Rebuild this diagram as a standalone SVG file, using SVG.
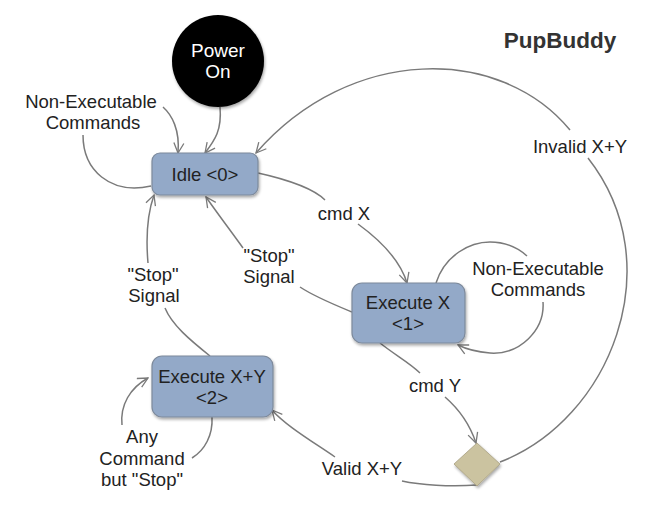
<svg xmlns="http://www.w3.org/2000/svg" width="671" height="517" viewBox="0 0 671 517">
<style>
text{font-family:"Liberation Sans",Arial,sans-serif;font-size:18.5px;fill:#222;text-anchor:middle}
.conn path{fill:none;stroke:#7a7a7a;stroke-width:1.5}
.box{fill:#93a9c8;stroke:#7d8a9c;stroke-width:1.2;filter:url(#sh)}
</style>
<defs>
<marker id="ah" viewBox="0 0 12 12" refX="11" refY="6" markerWidth="12" markerHeight="12" markerUnits="userSpaceOnUse" orient="auto">
<path d="M1,1 L11,6 L1,11" fill="none" stroke="#7a7a7a" stroke-width="1.3"/>
</marker>
<filter id="sh" x="-20%" y="-20%" width="140%" height="150%">
<feGaussianBlur in="SourceAlpha" stdDeviation="1.5"/>
<feOffset dx="1" dy="2" result="b"/>
<feComponentTransfer><feFuncA type="linear" slope="0.35"/></feComponentTransfer>
<feMerge><feMergeNode/><feMergeNode in="SourceGraphic"/></feMerge>
</filter>
</defs>
<g id="title"><text x="560" y="48" style="font-weight:bold;font-size:22.5px;fill:#333">PupBuddy</text></g>
<g id="connectors" class="conn">
<path d="M220,107 C222,130 215,140 205,153" marker-end="url(#ah)"/>
<path d="M83,135 C83,170 110,195 151,186"/>
<path d="M163,107 C172,115 180,130 178,153" marker-end="url(#ah)"/>
<path d="M258,173 C290,180 315,190 325,200"/>
<path d="M358,224 C380,240 400,260 407,283" marker-end="url(#ah)"/>
<path d="M352,312 C335,305 315,297 300,287"/>
<path d="M243,248 C230,230 215,210 206,197" marker-end="url(#ah)"/>
<path d="M210,356 C190,340 172,325 165,308"/>
<path d="M148,263 C146,240 147,215 154,195" marker-end="url(#ah)"/>
<path d="M212,417 C213,435 205,450 192,458"/>
<path d="M122,425 C120,405 130,388 148,378" marker-end="url(#ah)"/>
<path d="M436,283 C445,255 470,242 490,242 C505,242 518,248 527,256"/>
<path d="M543,302 C545,330 520,355 490,353 C478,352 466,349 458,345" marker-end="url(#ah)"/>
<path d="M380,343 C395,355 410,363 420,373"/>
<path d="M445,397 C460,410 470,425 476,443" marker-end="url(#ah)"/>
<path d="M477,485 C450,487 420,485 402,481"/>
<path d="M335,457 C310,440 285,425 272,410" marker-end="url(#ah)"/>
<path d="M500,462 C610,420 672,265 588,158"/>
<path d="M570,130 C500,45 350,45 256,153" marker-end="url(#ah)"/>
</g>
<g id="labels">
<text x="91" y="108">Non-Executable</text>
<text x="93" y="129">Commands</text>
<text x="344" y="220">cmd X</text>
<text x="269" y="262">"Stop"</text>
<text x="269" y="283">Signal</text>
<text x="153" y="281">"Stop"</text>
<text x="154" y="302">Signal</text>
<text x="538" y="275">Non-Executable</text>
<text x="538" y="296">Commands</text>
<text x="435" y="392">cmd Y</text>
<text x="580" y="153">Invalid X+Y</text>
<text x="362" y="475">Valid X+Y</text>
<text x="142" y="443">Any</text>
<text x="142" y="465">Command</text>
<text x="142" y="486">but "Stop"</text>
</g>
<g id="power">
<circle cx="218" cy="61" r="46" fill="#000" filter="url(#sh)"/>
<text x="218" y="57" style="fill:#fff;font-size:19px">Power</text>
<text x="218" y="78" style="fill:#fff;font-size:19px">On</text>
</g>
<g id="idle">
<rect class="box" x="152" y="153" width="106" height="42" rx="8"/>
<text x="205" y="181">Idle &lt;0&gt;</text>
</g>
<g id="execx">
<rect class="box" x="352" y="283" width="113" height="60" rx="10"/>
<text x="408" y="309">Execute X</text>
<text x="408" y="330">&lt;1&gt;</text>
</g>
<g id="execxy">
<rect class="box" x="152" y="356" width="121" height="61" rx="10"/>
<text x="212" y="383">Execute X+Y</text>
<text x="212" y="404">&lt;2&gt;</text>
</g>
<g id="decision">
<polygon points="477,443 500,464 477,486 454,464" fill="#cbc3a0" stroke="#a8a080" stroke-width="0.8" filter="url(#sh)"/>
</g>
</svg>
